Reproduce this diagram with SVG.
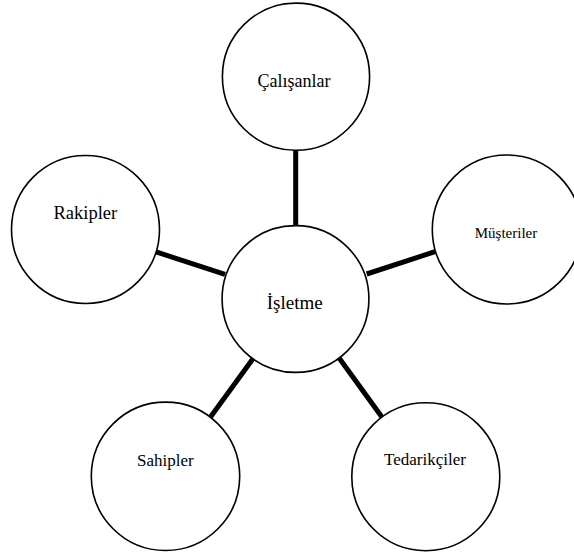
<svg xmlns="http://www.w3.org/2000/svg" width="574" height="559" viewBox="0 0 574 559">
<style>
.node circle{fill:#fff;stroke:#000;stroke-width:1.6}
.node text{font-family:"Liberation Serif",serif;fill:#000;text-anchor:middle}
#connectors line{stroke:#000;stroke-width:5;stroke-linecap:butt}
</style>
<rect width="574" height="559" fill="#fff"/>
<g id="connectors">
<line x1="295.7" y1="150" x2="295.7" y2="226"/>
<line x1="155.3" y1="251.7" x2="225" y2="274.3"/>
<line x1="366.7" y1="274" x2="435" y2="251.7"/>
<line x1="253.3" y1="358.3" x2="210.7" y2="416.7"/>
<line x1="339.3" y1="358.3" x2="381.7" y2="416.7"/>
</g>
<g id="calisanlar" class="node"><circle cx="296" cy="76.7" r="73.6"/><text x="294" y="87.3" font-family="Liberation Serif, serif" font-size="18">Çalışanlar</text></g>
<g id="rakipler" class="node"><circle cx="85.5" cy="229.5" r="74"/><text x="85.3" y="219.3" font-family="Liberation Serif, serif" font-size="18.5">Rakipler</text></g>
<g id="musteriler" class="node"><circle cx="506.8" cy="229.5" r="74.5"/><text x="506" y="238.3" font-family="Liberation Serif, serif" font-size="15">Müşteriler</text></g>
<g id="isletme" class="node"><circle cx="295.5" cy="299" r="73.4"/><text x="294.7" y="309.3" font-family="Liberation Serif, serif" font-size="19">İşletme</text></g>
<g id="sahipler" class="node"><circle cx="165.5" cy="476.3" r="74.2"/><text x="165.3" y="466" font-family="Liberation Serif, serif" font-size="17">Sahipler</text></g>
<g id="tedarikciler" class="node"><circle cx="425.8" cy="476.7" r="74"/><text x="425" y="465" font-family="Liberation Serif, serif" font-size="17">Tedarikçiler</text></g>
</svg>
